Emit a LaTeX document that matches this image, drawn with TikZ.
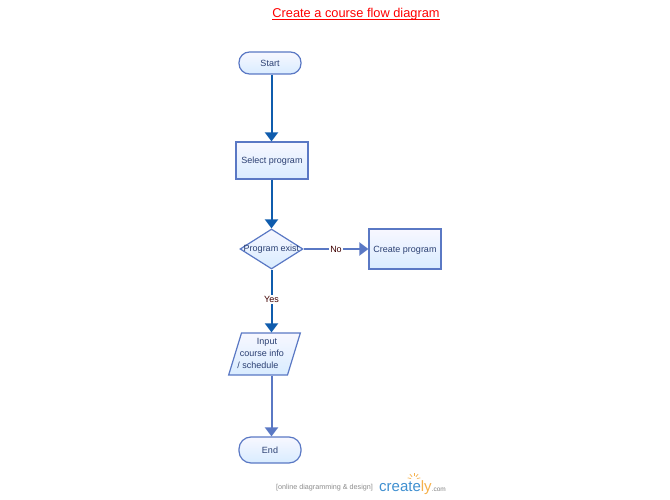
\documentclass[tikz,border=0pt]{standalone}
\usepackage{xcolor}
\usepackage{fontspec}
\setmainfont{Liberation Sans}
\usepackage{tikz}
\usetikzlibrary{shapes, arrows.meta, positioning}
\definecolor{edgeblue}{HTML}{5A78C4}
\definecolor{flowblue}{HTML}{0F5CAD}
\definecolor{labelblue}{HTML}{2A3F72}
\definecolor{logoblue}{HTML}{3F8FD0}
\definecolor{logoorange}{HTML}{F5B04A}
\newcommand{\slantline}[2]{\raisebox{2pt}{\makebox[0pt]{\hspace*{#1}#2}}}
\tikzset{
    shapebox/.style={draw=edgeblue, line width=1.2pt, top color=black!3!blue!3, bottom color=blue!50!cyan!15, text=labelblue, font=\fontsize{9}{12}\selectfont, align=center, inner sep=0pt},
    oneline/.style={text height=9pt, text depth=2pt},
    flowline/.style={draw=flowblue, line width=2pt, -{Triangle[width=13pt,length=9pt]}},
    paleline/.style={draw=edgeblue, line width=2pt, -{Triangle[width=13pt,length=9pt]}},
    edgelabel/.style={fill=white, inner sep=1.5pt, font=\fontsize{9}{10}\selectfont, text=black!75!red}
}
\begin{document}
\begin{tikzpicture}[x=1pt, y=-1pt]
    \useasboundingbox (0,0) rectangle (670,500);
    \node[anchor=base, inner sep=0pt, text=red, font=\fontsize{12.8}{15}\selectfont] (title) at (356,17.3) {Create a course flow diagram};
    \draw[red, line width=0.8pt] ([yshift=-2pt]title.base west) -- ([yshift=-2pt]title.base east);

    \node[shapebox, oneline, rounded corners=10.5pt, minimum width=62pt, minimum height=22pt] (start) at (270,63) {Start};
    \node[shapebox, oneline, minimum width=72pt, minimum height=37pt] (select) at (272,160.5) {Select program};
    \node[shapebox, diamond, minimum width=63pt, minimum height=40pt] (exist) at (271.5,249) {\makebox[0pt]{Program exist}};
    \node[shapebox, oneline, minimum width=72pt, minimum height=40pt] (create) at (405,249) {Create program};
    \node[shapebox, trapezium, trapezium left angle=73, trapezium right angle=107] (input) at (264.5,354) {\parbox[c][42pt][c]{46pt}{\centering\slantline{5pt}{Input}\\\slantline{-5pt}{course info}\\\slantline{-13pt}{/ schedule}}};
    \node[shapebox, oneline, rounded corners=12pt, minimum width=62pt, minimum height=26pt] (end) at (270,450) {End};

    \draw[flowline] (start.south -| exist.south) -- (exist.south |- select.north);
    \draw[flowline] (exist.south |- select.south) -- (exist.north);
    \draw[paleline] (exist.east) -- node[edgelabel, pos=0.5] (no) {No} (create.west);
    \draw[flowline] (exist.south) -- node[edgelabel, pos=0.48] (yes) {Yes} (exist.south |- input.north);
    \draw[paleline] (exist.south |- input.south) -- (exist.south |- end.north);

    % logo
    \node[anchor=east, text=black!45, font=\fontsize{7.2}{8}\selectfont] (tagline) at (376.5,488) {[online diagramming \& design]};
    \node[anchor=west, inner sep=0pt, font=\fontsize{15}{18}\selectfont] (logo) at (379,488) {\textcolor{logoblue}{create}\textcolor{logoorange}{ly}};
    \node[anchor=west, inner sep=0pt, text=black!50, font=\fontsize{6.5}{8}\selectfont] (dotcom) at (431.5,489.5) {.com};
    \foreach \a in {10,50,90,130,170}
        \draw[shift={(414,479)}, logoorange, line width=0.7pt] (\a:3pt) -- (\a:6.5pt);
\end{tikzpicture}
\end{document}
